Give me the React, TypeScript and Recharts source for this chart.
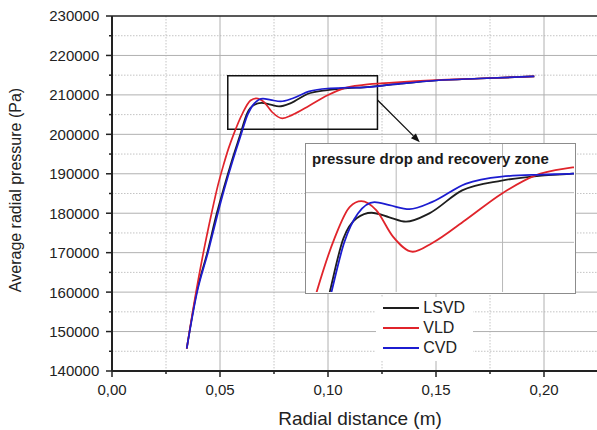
import { LineChart, Line, XAxis, YAxis, CartesianGrid, ReferenceArea, ReferenceLine } from "recharts";

// radial distance (m) / average radial pressure (Pa)
const lsvdR = [0.0346, 0.0392, 0.0441, 0.0485, 0.0518, 0.0553, 0.0591, 0.0626, 0.0657, 0.0692, 0.0734, 0.0773, 0.0828, 0.0905, 0.0998, 0.1092, 0.1165, 0.13, 0.15, 0.17, 0.1955];
const lsvdP = [145700, 160000, 170000, 180000, 186500, 193000, 199500, 205400, 207420, 207980, 207520, 207080, 207920, 210230, 211220, 211720, 211920, 212650, 213650, 214150, 214700];

const vldR = [0.0346, 0.0389, 0.0423, 0.0461, 0.049, 0.0515, 0.054, 0.0563, 0.0605, 0.0641, 0.0668, 0.0703, 0.0742, 0.0789, 0.0835, 0.0913, 0.0998, 0.1076, 0.1165, 0.13, 0.15, 0.17, 0.1955];
const vldP = [145700, 160000, 170000, 180000, 187000, 192000, 196500, 200000, 205400, 208570, 209140, 208240, 205600, 204050, 204940, 207250, 209900, 211720, 212540, 213100, 213750, 214150, 214700];

const cvdR = [0.0346, 0.0394, 0.0444, 0.049, 0.0522, 0.0557, 0.0595, 0.0628, 0.066, 0.0699, 0.0734, 0.0781, 0.0835, 0.0913, 0.0998, 0.1092, 0.1165, 0.13, 0.15, 0.17, 0.1955];
const cvdP = [145700, 160000, 170000, 180000, 186500, 193000, 199500, 205000, 207900, 209040, 208740, 208340, 209070, 210890, 211620, 211820, 211920, 212650, 213650, 214150, 214700];

const xTicks = [0, 0.025, 0.05, 0.075, 0.1, 0.125, 0.15, 0.175, 0.2, 0.225];
const xMajor = [0.05, 0.1, 0.15, 0.2];
const xMinor = [0.025, 0.075, 0.125, 0.175, 0.225];
const yTicks = [140000, 145000, 150000, 155000, 160000, 165000, 170000, 175000, 180000, 185000, 190000, 195000, 200000, 205000, 210000, 215000, 220000, 225000, 230000];
const yMajor = [150000, 160000, 170000, 180000, 190000, 200000, 210000, 220000];
const yMinor = [145000, 155000, 165000, 175000, 185000, 195000, 205000, 215000, 225000];

// zoom window (box on main plot) and inset view
const boxX = [0.0536, 0.1229];
const boxY = [201300, 214860];
const insetX = [0.0538, 0.1168];
const insetY = [200000, 214900];
const insetXGrid = [0.075, 0.1];
const insetYGrid = [205000, 210000];

const zip = (r: number[], p: number[]) => r.map((x, i) => ({ r: x, p: p[i] }));

const series = [
  { name: "LSVD", color: "#1e1e1e", data: zip(lsvdR, lsvdP) },
  { name: "VLD", color: "#e0242b", data: zip(vldR, vldP) },
  { name: "CVD", color: "#1c1cd0", data: zip(cvdR, cvdP) },
];

const FONT = "'Liberation Sans', Arial, sans-serif";
const INK = "#222";

function XTick({ x, y, payload }: any) {
  const v = payload.value;
  const major = Math.round(v * 1000) % 50 === 0;
  return (
    <g>
      <line x1={x} x2={x} y1={y} y2={y + (major ? 6 : 3)} stroke={INK} strokeWidth={1.5} />
      {major && (
        <text x={x} y={y + 23.7} textAnchor="middle" fontSize={15} fill={INK} fontFamily={FONT}>
          {v.toFixed(2).replace(".", ",")}
        </text>
      )}
    </g>
  );
}

function YTick({ x, y, payload }: any) {
  const v = payload.value;
  const major = v % 10000 === 0;
  return (
    <g>
      <line x1={x - (major ? 6 : 3)} x2={x} y1={y} y2={y} stroke={INK} strokeWidth={1.5} />
      {major && (
        <text x={x - 12.7} y={y + 5.4} textAnchor="end" fontSize={15} fill={INK} fontFamily={FONT}>
          {v}
        </text>
      )}
    </g>
  );
}

function Arrow(p: any) {
  const { x1, y1, x2, y2 } = p;
  const a = Math.atan2(y2 - y1, x2 - x1);
  const L = 9;
  const W = 3.5;
  const bx = x2 - L * Math.cos(a);
  const by = y2 - L * Math.sin(a);
  const pts = `${x2},${y2} ${bx - W * Math.sin(a)},${by + W * Math.cos(a)} ${bx + W * Math.sin(a)},${by - W * Math.cos(a)}`;
  return (
    <g>
      <line x1={x1} y1={y1} x2={bx} y2={by} stroke="#111" strokeWidth={1.3} />
      <polygon points={pts} fill="#111" />
    </g>
  );
}

export default function App() {
  return (
    <div style={{ position: "absolute", left: 0, top: 0, width: 597, height: 430, overflow: "hidden", background: "#fff", fontFamily: FONT }}>
      <LineChart width={600} height={430} margin={{ top: 16, right: 2, bottom: 0, left: 0 }}>
        <CartesianGrid stroke="#c4c4c4" strokeDasharray="1.5 1.5" horizontalValues={yMinor} verticalValues={xMinor} />
        <CartesianGrid stroke="#b0b0b0" horizontalValues={yMajor} verticalValues={xMajor} />
        <XAxis
          type="number"
          dataKey="r"
          domain={[0, 0.225]}
          ticks={xTicks}
          interval={0}
          tickSize={0}
          tickMargin={0}
          tickLine={false}
          tick={<XTick />}
          height={59}
          axisLine={{ stroke: INK, strokeWidth: 2 }}
          label={{
            content: (p: any) => {
              const vb = p.viewBox;
              return (
                <text x={vb.x + vb.width / 2 + 5} y={vb.y + 53.5} textAnchor="middle" fontSize={19} fill={INK} fontFamily={FONT}>
                  Radial distance (m)
                </text>
              );
            },
          }}
        />
        <YAxis
          type="number"
          domain={[140000, 230000]}
          ticks={yTicks}
          interval={0}
          tickSize={0}
          tickMargin={0}
          tickLine={false}
          tick={<YTick />}
          width={112}
          axisLine={{ stroke: INK, strokeWidth: 2 }}
          label={{
            content: (p: any) => {
              const vb = p.viewBox;
              const cx = vb.x + 15.5;
              const cy = vb.y + vb.height / 2 - 3.5;
              return (
                <text x={cx} y={cy} transform={`rotate(-90 ${cx} ${cy})`} textAnchor="middle" dominantBaseline="central" fontSize={16} fill={INK} fontFamily={FONT}>
                  Average radial pressure (Pa)
                </text>
              );
            },
          }}
        />
        <ReferenceLine y={230000} stroke={INK} strokeWidth={1.5} />
        <ReferenceArea x1={boxX[0]} x2={boxX[1]} y1={boxY[0]} y2={boxY[1]} fill="none" stroke="#111" strokeWidth={1.5} fillOpacity={0} ifOverflow="visible" />
        {series.map((s) => (
          <Line key={s.name} data={s.data} dataKey="p" name={s.name} type="monotone" stroke={s.color} strokeWidth={1.7} dot={false} isAnimationActive={false} />
        ))}
        <ReferenceLine
          segment={[{ x: boxX[1], y: 208700 }, { x: 0.1425, y: 198000 }]}
          ifOverflow="visible"
          shape={(p: any) => <Arrow {...p} />}
        />
      </LineChart>

      {/* inset: zoom of the pressure drop zone */}
      <div style={{ position: "absolute", left: 305, top: 143, width: 271, height: 151, border: "1.5px solid #8c8c8c", background: "#fff", boxSizing: "border-box" }}>
        <LineChart width={268} height={148} margin={{ top: 0, right: 0, bottom: 0, left: 0 }}>
          <CartesianGrid stroke="#b8b8b8" horizontalValues={insetYGrid} verticalValues={insetXGrid} />
          <XAxis type="number" dataKey="r" domain={insetX} ticks={insetXGrid} allowDataOverflow hide />
          <YAxis type="number" domain={insetY} ticks={insetYGrid} allowDataOverflow hide />
          {series.map((s) => (
            <Line key={s.name} data={s.data} dataKey="p" name={s.name} type="monotone" stroke={s.color} strokeWidth={1.8} dot={false} isAnimationActive={false} />
          ))}
        </LineChart>
        <div style={{ position: "absolute", left: 6, top: 6, fontSize: 15, fontWeight: "bold", color: "#1a1a1a", whiteSpace: "nowrap", lineHeight: "normal" }}>
          pressure drop and recovery zone
        </div>
      </div>

      {/* legend */}
      <div style={{ position: "absolute", left: 376, top: 297, width: 97, height: 64, background: "#fff" }}>
        {series.map((s, i) => (
          <div key={s.name} style={{ position: "absolute", left: 0, top: 1.5 + i * 19.7, height: 19.7, display: "flex", alignItems: "center" }}>
            <div style={{ marginLeft: 7.3, width: 36, height: 2, background: s.color }} />
            <div style={{ marginLeft: 4, fontSize: 16, lineHeight: 1, color: INK }}>{s.name}</div>
          </div>
        ))}
      </div>
    </div>
  );
}
